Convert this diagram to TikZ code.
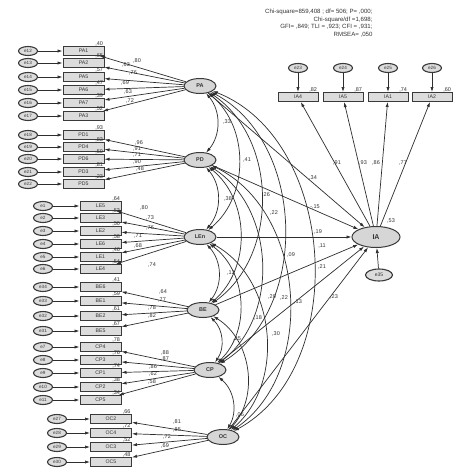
\documentclass[tikz,border=0pt]{standalone}
\usepackage{fontspec}
\setmainfont{Liberation Sans}
\usetikzlibrary{arrows.meta,shapes.geometric}
\definecolor{bd}{HTML}{3A3A3A}
\definecolor{bx}{HTML}{DCDCDC}
\definecolor{lt}{HTML}{D6D6D6}
\definecolor{ln}{HTML}{2E2E2E}
\definecolor{tx}{HTML}{333333}
\newcommand{\mkind}[9]{%
  \node[ind] (#1) at (#2,#3) {#1};
  \node[err] (#4) at (#5,#3) {#4};
  \draw[arr] (#4) -- (#1);
  \draw[arr] (#6) -- (#1);
  \node[val, anchor=south east] (r#1) at ([xshift=-1pt,yshift=-0.5pt]#1.north east) {#7};
  \node[val] (k#1) at (#9) {#8};
}
\newcommand{\mkia}[4]{%
  \node[ind, minimum width=40pt] (#1) at (#3,97) {#1};
  \node[err] (#2) at (#3,68) {#2};
  \draw[arr] (#2) -- (#1);
  \draw[arr] (IA) -- (#1);
  \node[val, anchor=south east] (r#1) at ([xshift=-1pt,yshift=-0.5pt]#1.north east) {#4};
}
\begin{document}
\begin{tikzpicture}[x=1pt,y=-1pt,
  ind/.style={draw=bd, fill=bx, line width=1pt, minimum width=41pt, minimum height=9pt, inner sep=0pt, text=tx, font=\fontsize{5.2}{5}\selectfont},
  err/.style={ellipse, draw=bd, fill=bx, line width=1.1pt, minimum width=19pt, minimum height=9pt, inner sep=0pt, text=tx, font=\fontsize{4.6}{5}\selectfont},
  lat/.style={ellipse, draw=bd, fill=lt, line width=1pt, minimum width=32pt, minimum height=15pt, inner sep=0pt, text=tx, font=\fontsize{5.5}{6}\bfseries\selectfont},
  val/.style={font=\fontsize{5.5}{6}\selectfont, text=tx, inner sep=0.3pt},
  arr/.style={draw=ln, line width=0.7pt, -{Latex[length=5pt,width=3.2pt]}},
  cov/.style={draw=ln, line width=0.7pt, {Latex[length=5pt,width=3.2pt]}-{Latex[length=5pt,width=3.2pt]}},
]
\useasboundingbox (0,0) rectangle (455,472);
\fill[white] (0,0) rectangle (455,472);

% header
\node[val, anchor=north east, align=right, font=\fontsize{6.1}{7.4}\selectfont] (hdr) at (373,9)
  {Chi-square=859,408 ; df= 506; P= ,000;\\ Chi-square/df =1,698;\\ GFI= ,849; TLI = ,923; CFI = ,931;\\ RMSEA= ,050};

% latents
\node[lat] (PA) at (200,86) {PA};
\node[lat] (PD) at (200,160) {PD};
\node[lat] (LEn) at (200,237) {LEn};
\node[lat] (BE) at (203,310) {BE};
\node[lat] (CP) at (210,370) {CP};
\node[lat] (OC) at (223,437) {OC};
\node[lat, minimum width=48pt, minimum height=21pt, font=\fontsize{7}{8}\bfseries\selectfont] (IA) at (376,237) {IA};
\node[err, minimum width=27pt, minimum height=12pt, font=\fontsize{5}{6}\selectfont] (e35) at (379,275) {e35};
\draw[arr] (e35) -- (IA);
\node[val] (r53) at (391,221) {,53};

% PA
\mkind{PA1}{83.5}{51}{e12}{28}{PA}{,40}{,63}{126,65}
\mkind{PA2}{83.5}{63}{e13}{28}{PA}{,65}{,80}{137,61}
\mkind{PA5}{83.5}{77}{e14}{28}{PA}{,57}{,76}{133,73}
\mkind{PA6}{83.5}{90}{e15}{28}{PA}{,47}{,69}{125,83}
\mkind{PA7}{83.5}{103}{e16}{28}{PA}{,39}{,63}{128,92}
\mkind{PA3}{83.5}{116}{e17}{28}{PA}{,52}{,72}{130,101}
% PD
\mkind{PD1}{83.5}{135}{e18}{28}{PD}{,93}{,96}{139,143}
\mkind{PD4}{83.5}{147}{e19}{28}{PD}{,83}{,91}{137,149}
\mkind{PD6}{83.5}{159}{e20}{28}{PD}{,50}{,71}{137,155}
\mkind{PD3}{83.5}{172}{e21}{28}{PD}{,81}{,90}{137,162}
\mkind{PD5}{83.5}{184}{e22}{28}{PD}{,23}{,48}{140,169}
% LE
\mkind{LE5}{100.5}{206}{e1}{43}{LEn}{,64}{,80}{144,208}
\mkind{LE3}{100.5}{218}{e2}{43}{LEn}{,53}{,73}{150,218}
\mkind{LE2}{100.5}{231}{e3}{43}{LEn}{,50}{,76}{150,228}
\mkind{LE6}{100.5}{244}{e4}{43}{LEn}{,58}{,71}{138,236}
\mkind{LE1}{100.5}{257}{e5}{43}{LEn}{,46}{,68}{138,246}
\mkind{LE4}{100.5}{269}{e6}{43}{LEn}{,54}{,74}{152,265}
% BE
\mkind{BE6}{100.5}{287}{e34}{43}{BE}{,41}{,64}{163,292}
\mkind{BE1}{100.5}{301}{e33}{43}{BE}{,59}{,77}{162,300}
\mkind{BE2}{100.5}{316}{e32}{43}{BE}{,61}{,78}{152,308}
\mkind{BE5}{100.5}{331}{e31}{43}{BE}{,67}{,82}{152,316}
% CP
\mkind{CP4}{100.5}{347}{e7}{43}{CP}{,78}{,88}{165,353}
\mkind{CP3}{100.5}{360}{e8}{43}{CP}{,76}{,87}{165,359}
\mkind{CP1}{100.5}{373}{e9}{43}{CP}{,74}{,86}{153,367}
\mkind{CP2}{100.5}{387}{e10}{43}{CP}{,38}{,62}{153,374}
\mkind{CP5}{100.5}{400}{e11}{43}{CP}{,34}{,58}{152,382}
% OC
\mkind{OC2}{111}{419}{e27}{57}{OC}{,66}{,81}{177,422}
\mkind{OC4}{111}{433}{e28}{57}{OC}{,72}{,85}{177,430}
\mkind{OC3}{111}{447}{e29}{57}{OC}{,52}{,72}{167,437}
\mkind{OC5}{111}{462}{e30}{57}{OC}{,48}{,69}{165,446}

% IA indicators
\mkia{IA4}{e23}{298}{,82}
\mkia{IA5}{e24}{343}{,87}
\mkia{IA1}{e25}{388}{,74}
\mkia{IA2}{e26}{432}{,60}
\node[val] (l91) at (337,163) {,91};
\node[val] (l93) at (363,163) {,93};
\node[val] (l86) at (376,163) {,86};
\node[val] (l77) at (403,163) {,77};

% covariances
\draw[cov] (PA) to[bend left=40] (PD);
\draw[cov] (PD) to[bend left=40] (LEn);
\draw[cov] (LEn) to[bend left=40] (BE);
\draw[cov] (BE) to[bend left=40] (CP);
\draw[cov] (CP) to[bend left=40] (OC);
\draw[cov] (PA) to[bend left=50] (LEn);
\draw[cov] (PD) to[bend left=50] (BE);
\draw[cov] (LEn) to[bend left=50] (CP);
\draw[cov] (BE) to[bend left=50] (OC);
\draw[cov] (PA) to[bend left=55] (BE);
\draw[cov] (PD) to[bend left=55] (CP);
\draw[cov] (LEn) to[bend left=55] (OC);
\draw[cov] (PA) to[bend left=60] (CP);
\draw[cov] (PD) to[bend left=60] (OC);
\draw[cov] (PA) to[bend left=65] (OC);
\node[val] (c1) at (227,122) {,33};
\node[val] (c2) at (247,160) {,41};
\node[val] (c3) at (228,199) {,38};
\node[val] (c4) at (266,195) {,26};
\node[val] (c5) at (274,213) {,22};
\node[val] (c6) at (291,255) {,09};
\node[val] (c7) at (231,273) {,12};
\node[val] (c8) at (272,297) {,20};
\node[val] (c9) at (284,298) {,22};
\node[val] (c10) at (298,302) {,13};
\node[val] (c11) at (258,318) {,18};
\node[val] (c12) at (276,334) {,30};
\node[val] (c13) at (237,339) {,25};
\node[val] (c14) at (240,415) {,06};

% regressions to IA
\draw[arr] (PA) -- (IA);
\draw[arr] (PD) -- (IA);
\draw[arr] (LEn) -- (IA);
\draw[arr] (BE) -- (IA);
\draw[arr] (CP) -- (IA);
\draw[arr] (OC) -- (IA);
\node[val] (g1) at (313,178) {,34};
\node[val] (g2) at (315,207) {-,15};
\node[val] (g3) at (318,232) {,19};
\node[val] (g4) at (322,246) {,11};
\node[val] (g5) at (322,267) {,21};
\node[val] (g6) at (334,297) {,23};
\end{tikzpicture}
\end{document}
